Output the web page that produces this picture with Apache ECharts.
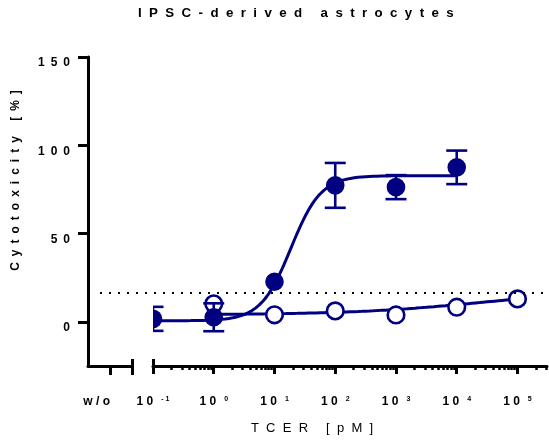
<!DOCTYPE html>
<html>
<head>
<meta charset="utf-8">
<script src="https://cdn.jsdelivr.net/npm/echarts@6/dist/echarts.min.js"></script>
<style>
html, body { margin: 0; padding: 0; background: #fff; }
#chart { width: 549px; height: 441px; }
</style>
</head>
<body>
<div id="chart"></div>
<script>
// TCER concentrations (pM) with mean cytotoxicity (%) and SD
const concFilled = [0.1, 1, 10, 100, 1000, 10000];
const meanFilled = [1.7, 2.6, 22.7, 77.3, 76.3, 87.5];
const errFilled  = [6.8, 7.9, 1.5, 12.7, 6.8, 9.5];

const concOpen = [1, 10, 100, 1000, 10000, 100000];
const meanOpen = [10.2, 4.0, 6.2, 3.9, 8.3, 13.0];
const errOpen  = [2.0, 2.0, 2.0, 2.0, 2.0, 2.0];

// four-parameter logistic fits: [bottom, top, logEC50, hill slope]
const fitFilled = [0.6, 82.8, 1.27, 1.75];
const fitOpen   = [4.0, 18.0, 4.4, 0.4];

// background threshold (dotted line)
const threshold = 16.6;

const yTicks = [0, 50, 100, 150];
const xExponents = [-1, 0, 1, 2, 3, 4, 5];
const baselineLabel = 'w/o';

const NAVY = '#000080';
const FONT = 'Liberation Sans, Arial, sans-serif';
const X_MAX = 5.486; // log10 of the upper axis end (~3e5 pM)

// wide tracking by joining characters with a spacing character
function spaced(str, sep) {
  return Array.from(str).join(sep);
}

function logistic(p, lx) {
  return p[0] + (p[1] - p[0]) / (1 + Math.pow(10, (p[2] - lx) * p[3]));
}

function fitCurve(p, concs) {
  const lo = Math.log10(Math.min.apply(null, concs));
  const hi = Math.log10(Math.max.apply(null, concs));
  const pts = [];
  const n = 160;
  for (let i = 0; i <= n; i++) {
    const lx = lo + (hi - lo) * i / n;
    pts.push([lx, logistic(p, lx)]);
  }
  return pts;
}

// minor log ticks at 2..9 x 10^n
const minorTicks = [];
for (let n = -1; n <= 5; n++) {
  for (let k = 2; k <= 9; k++) {
    const v = n + Math.log10(k);
    if (v <= X_MAX) minorTicks.push(v);
  }
}

// symbol with SD bars; bars shorter than the symbol stay hidden behind it
function pointRenderer(filled) {
  return function (params, api) {
    const x = api.value(0), m = api.value(1), e = api.value(2);
    const c = api.coord([x, m]);
    const top = api.coord([x, m + e]);
    const bot = api.coord([x, m - e]);
    const r = filled ? 9.3 : 8.3;
    const capW = 10.5;
    const stroke = { stroke: NAVY, lineWidth: 2.6, fill: null };
    const children = [];
    if (Math.abs(c[1] - top[1]) > r + 1.5) {
      children.push(
        { type: 'line', shape: { x1: c[0], y1: top[1], x2: c[0], y2: bot[1] }, style: stroke },
        { type: 'line', shape: { x1: c[0] - capW, y1: top[1], x2: c[0] + capW, y2: top[1] }, style: stroke },
        { type: 'line', shape: { x1: c[0] - capW, y1: bot[1], x2: c[0] + capW, y2: bot[1] }, style: stroke }
      );
    }
    if (filled) {
      children.push({ type: 'circle', shape: { cx: c[0], cy: c[1], r: r }, style: { fill: NAVY } });
    } else {
      children.push({ type: 'circle', shape: { cx: c[0], cy: c[1], r: r }, style: { fill: '#fff', stroke: NAVY, lineWidth: 2.6 } });
    }
    return { type: 'group', children: children };
  };
}

const axisStroke = { color: '#000', width: 3 };
const hiddenAxis = {
  position: 'bottom',
  offset: 0,
  axisLine: { show: false, onZero: false },
  axisTick: { show: false },
  axisLabel: { show: false },
  splitLine: { show: false }
};

const chart = echarts.init(document.getElementById('chart'), null, { renderer: 'canvas' });

chart.setOption({
  animation: false,
  backgroundColor: '#fff',
  title: {
    text: spaced('IPSC-derived astrocytes', '\u2007'),
    left: 138,
    top: 7,
    padding: 0,
    textStyle: { fontFamily: FONT, fontSize: 13.3, fontWeight: 'bold', color: '#000' }
  },
  grid: [
    { left: 88, top: 57, width: 44, height: 309 },
    { left: 153, top: 57, width: 394, height: 309 },
    { left: 100, top: 57, width: 445, height: 309 }
  ],
  xAxis: [
    {
      type: 'value', gridIndex: 0, min: 0, max: 2, position: 'bottom',
      axisLine: { show: true, onZero: false, lineStyle: axisStroke },
      axisTick: { show: true, customValues: [1, 2], length: 9, lineStyle: { color: '#000', width: 3 } },
      axisLabel: {
        show: true, customValues: [1], margin: 30, align: 'right',
        formatter: function () { return spaced(baselineLabel, ' '); },
        fontFamily: FONT, fontSize: 12, fontWeight: 'bold', color: '#000'
      },
      splitLine: { show: false }
    },
    Object.assign({ type: 'value', gridIndex: 0, min: 0, max: 2 }, hiddenAxis, {
      axisTick: { show: true, inside: true, customValues: [2], length: 7, lineStyle: { color: '#000', width: 3 } }
    }),
    {
      type: 'value', gridIndex: 1, min: -1, max: X_MAX, position: 'bottom',
      axisLine: { show: true, onZero: false, lineStyle: axisStroke },
      axisTick: { show: true, customValues: xExponents, length: 8, lineStyle: { color: '#000', width: 3 } },
      axisLabel: {
        show: true, customValues: xExponents, margin: 30,
        formatter: function (v) {
          return '{b|1 0}{s|' + spaced(String(Math.round(v)), ' ') + '}';
        },
        rich: {
          b: { fontFamily: FONT, fontSize: 12, fontWeight: 'bold', color: '#000' },
          s: { fontFamily: FONT, fontSize: 7, fontWeight: 'bold', color: '#000', verticalAlign: 'top', padding: [0, 0, 0, 8] }
        }
      },
      splitLine: { show: false },
      name: spaced('TCER [pM]', '\u2007'),
      nameLocation: 'middle',
      nameGap: 56,
      nameTextStyle: { fontFamily: FONT, fontSize: 13, color: '#000', padding: [0, 76, 0, 0] }
    },
    Object.assign({ type: 'value', gridIndex: 1, min: -1, max: X_MAX }, hiddenAxis, {
      axisTick: { show: true, customValues: minorTicks, length: 4, lineStyle: { color: '#000', width: 2.5 } }
    }),
    Object.assign({ type: 'value', gridIndex: 1, min: -1, max: X_MAX }, hiddenAxis, {
      axisTick: { show: true, inside: true, customValues: [-1], length: 7, lineStyle: { color: '#000', width: 3 } }
    }),
    Object.assign({ type: 'value', gridIndex: 2, min: 0, max: 1 }, hiddenAxis)
  ],
  yAxis: [
    {
      type: 'value', gridIndex: 0, min: -25, max: 150, position: 'left',
      axisLine: { show: true, onZero: false, lineStyle: axisStroke },
      axisTick: { show: true, customValues: yTicks, length: 10, lineStyle: { color: '#000', width: 3 } },
      axisLabel: {
        show: true, customValues: yTicks, margin: 18,
        formatter: function (v) { return spaced(String(v), '\u2002'); },
        fontFamily: FONT, fontSize: 12, fontWeight: 'bold', color: '#000',
        verticalAlign: 'top'
      },
      splitLine: { show: false },
      name: spaced('Cytotoxicity [%]', '\u2002'),
      nameLocation: 'middle',
      nameGap: 66,
      nameTextStyle: { fontFamily: FONT, fontSize: 12, fontWeight: 'bold', color: '#000', padding: [0, 0, 0, 62] }
    },
    Object.assign({ type: 'value', gridIndex: 1, min: -25, max: 150 }, hiddenAxis, { position: 'left' }),
    Object.assign({ type: 'value', gridIndex: 2, min: -25, max: 150 }, hiddenAxis, { position: 'left' })
  ],
  series: [
    {
      type: 'line', xAxisIndex: 5, yAxisIndex: 2, data: [], silent: true,
      markLine: {
        silent: true, symbol: 'none', animation: false,
        label: { show: false },
        lineStyle: { color: '#000', width: 2, type: [2, 7] },
        data: [{ yAxis: threshold }]
      }
    },
    {
      type: 'line', xAxisIndex: 2, yAxisIndex: 1, clip: true, showSymbol: false, silent: true, z: 2,
      lineStyle: { color: NAVY, width: 3 },
      data: fitCurve(fitOpen, concOpen)
    },
    {
      type: 'line', xAxisIndex: 2, yAxisIndex: 1, clip: true, showSymbol: false, silent: true, z: 2,
      lineStyle: { color: NAVY, width: 3 },
      data: fitCurve(fitFilled, concFilled)
    },
    {
      type: 'custom', xAxisIndex: 2, yAxisIndex: 1, clip: true, silent: true, z: 3,
      renderItem: pointRenderer(false),
      encode: { x: 0, y: 1 },
      data: concOpen.map(function (c, i) { return [Math.log10(c), meanOpen[i], errOpen[i]]; })
    },
    {
      type: 'custom', xAxisIndex: 2, yAxisIndex: 1, clip: true, silent: true, z: 4,
      renderItem: pointRenderer(true),
      encode: { x: 0, y: 1 },
      data: concFilled.map(function (c, i) { return [Math.log10(c), meanFilled[i], errFilled[i]]; })
    }
  ]
});
</script>
</body>
</html>
